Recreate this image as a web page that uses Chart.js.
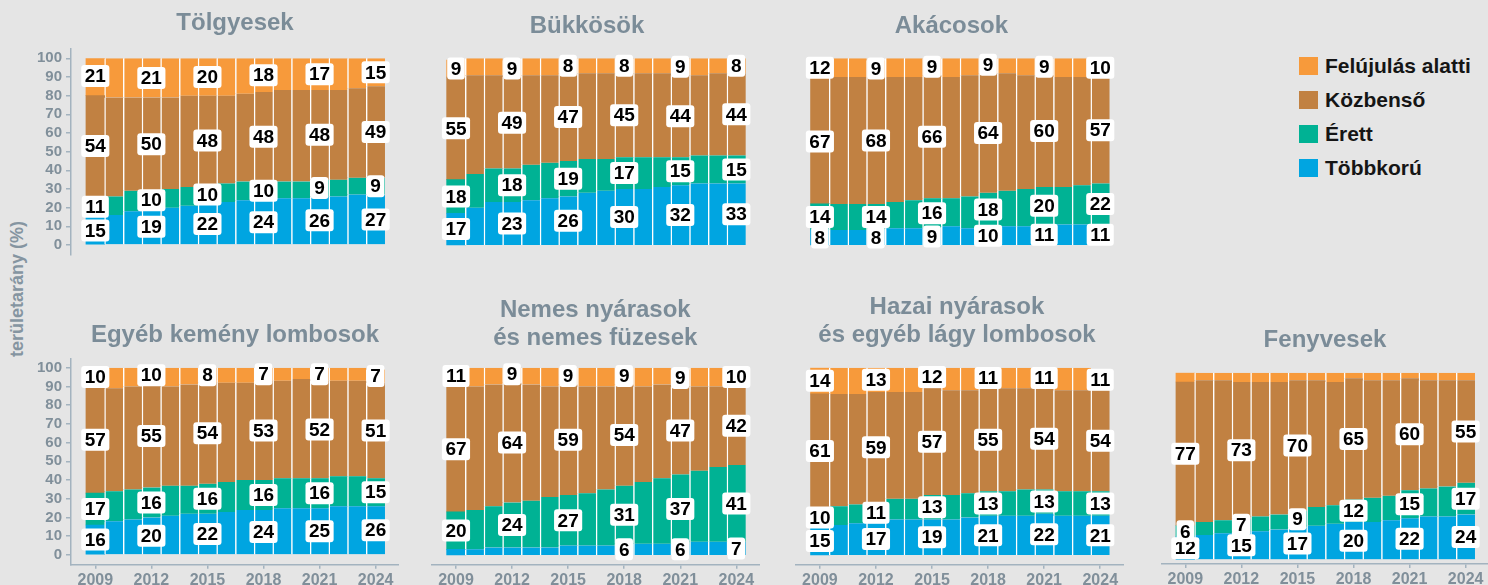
<!DOCTYPE html>
<html lang="hu">
<head>
<meta charset="utf-8">
<title>Korosztályviszonyok állománytípusonként</title>
<script src="https://cdn.jsdelivr.net/npm/chart.js@4.4.1/dist/chart.umd.min.js"></script>
<style>
    html, body { margin: 0; padding: 0; }
    body {
        width: 1488px;
        height: 585px;
        position: relative;
        overflow: hidden;
        background: #e5e5e5;
        font-family: 'Liberation Sans', Arial, sans-serif;
    }
    canvas { position: absolute; }
    #y-title {
        position: absolute;
        left: 17px;
        top: 289px;
        transform: translate(-50%, -50%) rotate(-90deg);
        white-space: nowrap;
        font-weight: bold;
        font-size: 18px;
        color: #8595a1;
    }
    #legend { position: absolute; left: 1299px; top: 57px; }
    .legend-item {
        display: flex;
        align-items: center;
        height: 18px;
        margin-bottom: 16px;
        font-weight: bold;
        font-size: 21px;
        color: #151515;
    }
    .legend-box { width: 19px; height: 18px; margin-right: 7px; }
</style>
</head>
<body>
<div id="y-title">területarány (%)</div>
<div id="legend"></div>

<script>
// data =========================================================//

const years = [2009, 2010, 2011, 2012, 2013, 2014, 2015, 2016, 2017, 2018, 2019, 2020, 2021, 2022, 2023, 2024];
const labeledYears = [2009, 2012, 2015, 2018, 2021, 2024];
const yTickValues = [0, 10, 20, 30, 40, 50, 60, 70, 80, 90, 100];
const seriesNames = ['Többkorú', 'Érett', 'Közbenső', 'Felújulás alatti'];
const seriesColors = ['#00a5e1', '#00b294', '#c18142', '#f79a3b'];

// T = többkorú, E = érett, K = közbenső, F = felújulás alatti
const tolgyesT = [15, 16, 18, 19, 20, 21, 22, 23, 24, 24, 25, 25, 26, 26, 27, 27];
const tolgyesE = [11, 10, 11, 10, 10, 10, 10, 10, 10, 10, 9, 9, 9, 9, 9, 9];
const tolgyesK = [54, 53, 50, 50, 49, 49, 48, 47, 47, 48, 49, 49, 48, 48, 48, 49];
const tolgyesF = [21, 21, 21, 21, 21, 20, 20, 20, 19, 18, 17, 17, 17, 17, 16, 15];

const bukkT = [17, 20, 23, 23, 24, 25, 26, 28, 29, 30, 30, 31, 32, 33, 33, 33];
const bukkE = [18, 18, 18, 18, 19, 19, 19, 18, 17, 17, 17, 16, 15, 15, 15, 15];
const bukkK = [55, 53, 50, 49, 48, 47, 47, 46, 46, 45, 45, 45, 44, 43, 44, 44];
const bukkF = [9, 9, 9, 9, 9, 9, 8, 8, 8, 8, 8, 8, 9, 9, 8, 8];

const akacT = [8, 8, 8, 8, 9, 9, 9, 10, 9, 10, 10, 10, 11, 11, 11, 11];
const akacE = [14, 14, 14, 14, 14, 15, 16, 15, 17, 18, 19, 20, 20, 20, 21, 22];
const akacK = [67, 68, 68, 68, 67, 66, 66, 65, 65, 64, 63, 61, 60, 59, 58, 57];
const akacF = [12, 10, 10, 9, 10, 10, 9, 10, 9, 9, 8, 9, 9, 10, 10, 10];

const kemenyT = [16, 18, 19, 20, 21, 22, 22, 23, 24, 24, 25, 25, 25, 26, 26, 26];
const kemenyE = [17, 16, 16, 16, 16, 15, 16, 16, 16, 16, 16, 16, 16, 16, 16, 15];
const kemenyK = [57, 55, 55, 55, 53, 54, 54, 53, 52, 53, 52, 53, 52, 51, 51, 51];
const kemenyF = [10, 11, 10, 10, 10, 9, 8, 8, 8, 7, 7, 6, 7, 7, 7, 7];

const nemesT = [3, 3, 4, 4, 4, 4, 5, 5, 5, 6, 6, 6, 6, 7, 7, 7];
const nemesE = [20, 21, 22, 24, 25, 27, 27, 28, 30, 31, 33, 35, 37, 38, 40, 41];
const nemesK = [67, 66, 65, 64, 62, 59, 59, 57, 55, 54, 51, 50, 47, 45, 43, 42];
const nemesF = [11, 10, 9, 9, 9, 10, 9, 10, 10, 9, 10, 9, 9, 10, 10, 10];

const hazaiT = [15, 16, 17, 17, 19, 19, 19, 19, 20, 21, 21, 21, 22, 21, 21, 21];
const hazaiE = [10, 10, 10, 11, 11, 11, 13, 13, 13, 13, 13, 14, 13, 13, 13, 13];
const hazaiK = [61, 60, 59, 59, 57, 57, 57, 56, 55, 55, 55, 54, 54, 54, 54, 54];
const hazaiF = [14, 14, 14, 13, 13, 13, 12, 12, 12, 11, 11, 11, 11, 12, 12, 11];

const fenyoT = [12, 13, 14, 15, 15, 16, 17, 18, 19, 20, 20, 21, 22, 23, 23, 24];
const fenyoE = [6, 7, 7, 7, 8, 8, 9, 10, 10, 12, 13, 13, 15, 15, 16, 17];
const fenyoK = [77, 76, 75, 73, 72, 71, 70, 68, 66, 65, 63, 62, 60, 58, 57, 55];
const fenyoF = [5, 4, 4, 5, 5, 5, 4, 4, 5, 3, 4, 4, 3, 4, 4, 4];

// data =========================================================//


const TITLE_COLOR = '#7b8c98';
const TICK_COLOR = '#808f9a';
const AXIS_COLOR = '#a3b3bf';
const LINE = 28.8;          // title line height (24px * 1.2)
const AREA_W = 328;         // plot width of each panel
const Y_AXIS_W = 40;        // room for the 0..100 tick labels
const X_MIN = 2007.7, X_MAX = 2025.25;

// rows: top edge / bottom edge of the plot area and the y range they stand for
const topRow = { T: 49, B: 254.3, yMin: -5, yMax: 105 };
const bottomRow = { T: 358.7, B: 564.7, yMin: -5.2, yMax: 104.8 };
const fenyoRow = { T: 363.7, B: 564.0, yMin: -2.5, yMax: 104.8 };

const panels = [
    { title: 'Tölgyesek', series: [tolgyesT, tolgyesE, tolgyesK, tolgyesF], L: 71, cx: 236, cy: 23.7, row: topRow, yAxis: true, xAxis: false },
    { title: 'Bükkösök', series: [bukkT, bukkE, bukkK, bukkF], L: 431.7, cx: 587, cy: 26.5, row: topRow, yAxis: false, xAxis: false },
    { title: 'Akácosok', series: [akacT, akacE, akacK, akacF], L: 795.6, cx: 951.4, cy: 26.7, row: topRow, yAxis: false, xAxis: false },
    { title: 'Egyéb kemény lombosok', series: [kemenyT, kemenyE, kemenyK, kemenyF], L: 71, cx: 226, cy: 335, row: bottomRow, yAxis: true, xAxis: true },
    { title: ['Nemes nyárasok', 'és nemes füzesek'], series: [nemesT, nemesE, nemesK, nemesF], L: 431.7, cx: 595.3, cy: 310, row: bottomRow, yAxis: false, xAxis: true },
    { title: ['Hazai nyárasok', 'és egyéb lágy lombosok'], series: [hazaiT, hazaiE, hazaiK, hazaiF], L: 795.6, cx: 957, cy: 307, row: bottomRow, yAxis: false, xAxis: true },
    { title: 'Fenyvesek', series: [fenyoT, fenyoE, fenyoK, fenyoF], L: 1161, cx: 1325, cy: 340, row: fenyoRow, yAxis: false, xAxis: true }
];


// bar labels in white boxes + clipping the stacks at 100 % =====================//

const valueLabels = {
    id: 'valueLabels',
    beforeDatasetsDraw(chart) {
        const { ctx, chartArea, scales: { y } } = chart;
        const top = y.getPixelForValue(100);
        ctx.save();
        ctx.beginPath();
        ctx.rect(chartArea.left, top, chartArea.width, chartArea.bottom - top);
        ctx.clip();
    },
    afterDatasetsDraw(chart) {
        const ctx = chart.ctx;
        ctx.restore();
        ctx.save();
        ctx.font = "bold 19px 'Liberation Sans', Arial, sans-serif";
        ctx.textAlign = 'center';
        ctx.textBaseline = 'middle';
        chart.data.datasets.forEach((ds, k) => {
            const meta = chart.getDatasetMeta(k);
            meta.data.forEach((bar, i) => {
                const v = ds.data[i];
                if (!labeledYears.includes(chart.data.labels[i]) || v <= 5) return;
                const text = String(v);
                const w = ctx.measureText(text).width + 7;
                const h = 22;
                const cy = (bar.y + bar.base) / 2;
                ctx.fillStyle = '#ffffff';
                ctx.beginPath();
                ctx.roundRect(bar.x - w / 2, cy - h / 2, w, h, 3);
                ctx.fill();
                ctx.fillStyle = '#000000';
                ctx.fillText(text, bar.x, cy + 1);
            });
        });
        ctx.restore();
    }
};


// one panel =========================================================//

function drawPanel(p) {
    const R = p.L + AREA_W;
    const lines = Array.isArray(p.title) ? p.title.length : 1;
    // panels with a visible y axis centre the title over the plot,
    // the others get a blank axis box so the title can sit on cx
    const boxLeft = p.yAxis ? p.L - Y_AXIS_W : Math.min(2 * p.cx - R, p.L);
    const axisW = p.L - boxLeft;
    const left = Math.floor(boxLeft);
    const width = Math.ceil(R - left);
    const top = Math.floor(p.cy - LINE / 2 - 4);
    const titleTop = p.cy - LINE / 2 - top;
    const titleBottom = p.row.T - top - titleTop - lines * LINE;
    const xAxisH = p.xAxis ? 24 : 0;
    const height = Math.ceil(p.row.B + xAxisH + 16 - top);

    const canvas = document.createElement('canvas');
    canvas.width = width;
    canvas.height = height;
    canvas.style.left = left + 'px';
    canvas.style.top = top + 'px';
    document.body.appendChild(canvas);

    const datasets = seriesNames.map((name, k) => ({
        label: name,
        data: p.series[k],
        backgroundColor: seriesColors[k],
        borderColor: '#ffffff',
        borderWidth: ctx => ({ left: ctx.dataIndex === 0 ? 0 : 1.4, right: 0, top: 0, bottom: 0 }),
        borderSkipped: false,
        barPercentage: 1,
        categoryPercentage: 1
    }));

    return new Chart(canvas, {
        type: 'bar',
        data: { labels: years, datasets: datasets },
        options: {
            responsive: false,
            devicePixelRatio: 1,
            animation: false,
            events: [],
            layout: {
                padding: {
                    left: boxLeft - left,
                    right: left + width - R,
                    top: 0,
                    bottom: top + height - p.row.B - xAxisH
                }
            },
            plugins: {
                legend: { display: false },
                tooltip: { enabled: false },
                title: {
                    display: true,
                    fullSize: !p.yAxis,
                    text: p.title,
                    color: TITLE_COLOR,
                    font: { size: 24, weight: 'bold', lineHeight: 1.2 },
                    padding: { top: titleTop, bottom: titleBottom }
                }
            },
            scales: {
                x: {
                    type: 'linear',
                    stacked: true,
                    min: X_MIN,
                    max: X_MAX,
                    offset: false,
                    display: p.xAxis,
                    afterBuildTicks: s => { s.ticks = labeledYears.map(v => ({ value: v })); },
                    afterFit: s => { s.height = xAxisH; },
                    ticks: {
                        color: TICK_COLOR,
                        font: { size: 16, weight: 'bold' },
                        padding: 2,
                        autoSkip: false,
                        maxRotation: 0,
                        callback: v => String(v)
                    },
                    grid: { offset: false, drawOnChartArea: false, tickLength: 4, color: AXIS_COLOR, lineWidth: 1.5 },
                    border: { display: true, color: AXIS_COLOR, width: 1.5 }
                },
                y: {
                    stacked: true,
                    min: p.row.yMin,
                    max: p.row.yMax,
                    afterBuildTicks: s => { s.ticks = yTickValues.map(v => ({ value: v })); },
                    afterFit: s => { s.width = axisW; },
                    ticks: {
                        display: p.yAxis,
                        autoSkip: false,
                        color: TICK_COLOR,
                        font: { size: 15, weight: 'bold' },
                        padding: 4
                    },
                    grid: { display: p.yAxis, drawOnChartArea: false, tickLength: 5, color: AXIS_COLOR, lineWidth: 1.5 },
                    border: { display: p.yAxis, color: AXIS_COLOR, width: 1.5 }
                }
            }
        },
        plugins: [valueLabels]
    });
}

Chart.defaults.font.family = "'Liberation Sans', Arial, sans-serif";
const allCharts = panels.map(drawPanel);


// legend =========================================================//

const legendEl = document.getElementById('legend');
for (let k = seriesNames.length - 1; k >= 0; k--) {
    const item = document.createElement('div');
    item.className = 'legend-item';
    const box = document.createElement('span');
    box.className = 'legend-box';
    box.style.background = seriesColors[k];
    const label = document.createElement('span');
    label.textContent = seriesNames[k];
    item.appendChild(box);
    item.appendChild(label);
    legendEl.appendChild(item);
}
</script>
</body>
</html>
